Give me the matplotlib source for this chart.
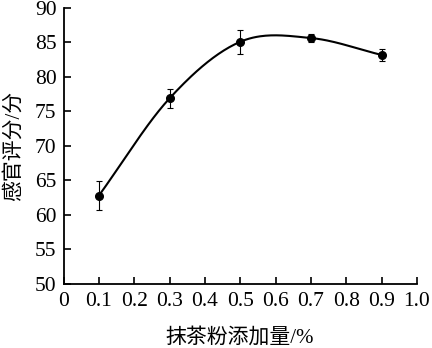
import numpy as np
import matplotlib
matplotlib.use("Agg")
import matplotlib.pyplot as plt

# matcha powder dosage (%) vs sensory score
dosage = [0.1, 0.3, 0.5, 0.7, 0.9]
score = [62.8, 76.9, 85.1, 85.65, 83.2]
score_err = [2.1, 1.4, 1.7, 0.6, 0.9]

xticks = [0, 0.1, 0.2, 0.3, 0.4, 0.5, 0.6, 0.7, 0.8, 0.9, 1.0]
xticklabels = ["0", "0.1", "0.2", "0.3", "0.4", "0.5", "0.6", "0.7", "0.8", "0.9", "1.0"]
yticks = [50, 55, 60, 65, 70, 75, 80, 85, 90]


def catmull_rom(x, y, n=40):
    # smooth line like the spreadsheet "smoothed" option
    x = np.asarray(x, float)
    y = np.asarray(y, float)
    m = np.zeros_like(y)
    m[1:-1] = (y[2:] - y[:-2]) / (x[2:] - x[:-2])
    m[0] = (y[1] - y[0]) / (x[1] - x[0])
    m[-1] = (y[-1] - y[-2]) / (x[-1] - x[-2])
    xs, ys = [], []
    for i in range(len(x) - 1):
        h = x[i + 1] - x[i]
        t = np.linspace(0, 1, n)
        h00 = 2 * t**3 - 3 * t**2 + 1
        h10 = t**3 - 2 * t**2 + t
        h01 = -2 * t**3 + 3 * t**2
        h11 = t**3 - t**2
        xs.append(x[i] + t * h)
        ys.append(h00 * y[i] + h10 * h * m[i] + h01 * y[i + 1] + h11 * h * m[i + 1])
    return np.concatenate(xs), np.concatenate(ys)


fonts = ["Liberation Serif", "Noto Sans CJK SC"]
plt.rcParams["font.family"] = fonts

fig = plt.figure(figsize=(4.32, 3.48), dpi=100)
ax = fig.add_axes([0.147, 0.184, 0.818, 0.793])

sx, sy = catmull_rom(dosage, score)
ax.plot(sx, sy, color="black", lw=1.5)
ax.errorbar(dosage, score, yerr=score_err, fmt="o", color="black",
            ms=5.5, elinewidth=0.8, capsize=2, capthick=0.8)

ax.set_xlim(0, 1.0)
ax.set_ylim(50, 90)
ax.set_xticks(xticks)
ax.set_xticklabels(xticklabels)
ax.set_yticks(yticks)
ax.tick_params(direction="in", length=5, width=1.2, labelsize=15.5)
ax.tick_params(axis="x", pad=6)
ax.tick_params(axis="y", pad=5)
ax.spines["top"].set_visible(False)
ax.spines["right"].set_visible(False)
for s in ("left", "bottom"):
    ax.spines[s].set_linewidth(1.3)

ax.set_xlabel("抹茶粉添加量/%", fontsize=15, labelpad=12)
ax.set_ylabel("感官评分/分", fontsize=15, labelpad=8)

fig.savefig("out.png", dpi=100)
